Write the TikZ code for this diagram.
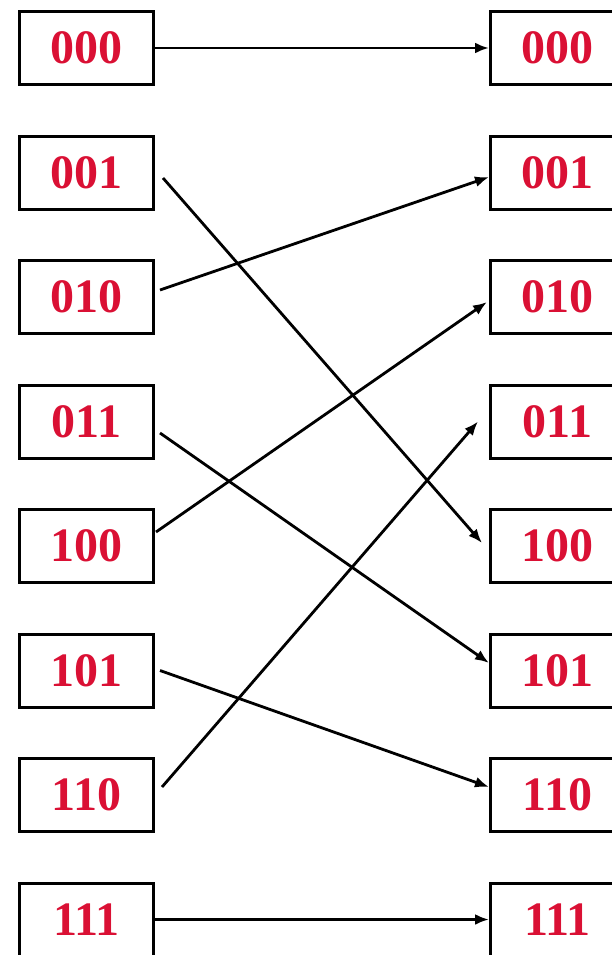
\documentclass[tikz,border=0pt]{standalone}
\usepackage{fontspec}
\setmainfont{Liberation Serif}
\usepackage{tikz}
\usetikzlibrary{positioning,arrows.meta}
\definecolor{bitred}{RGB}{218,16,52}
\tikzset{
  perm box/.style={draw=black,line width=3pt,minimum width=134pt,minimum height=73pt,
    inner sep=0pt,text=bitred,font=\fontsize{48}{48}\bfseries\selectfont},
  perm arrow/.style={-{Latex[length=14pt,width=11pt]},line width=2.8pt,black}
}
\begin{document}
\begin{tikzpicture}
  \useasboundingbox (0,0) rectangle (612pt,-955pt);
  \clip (0,0) rectangle (612pt,-955pt);
  % input column
  \node[perm box] (l0) at (86.5pt,-48pt) {000};
  \node[perm box,below=48.5pt of l0] (l1) {001};
  \node[perm box,below=48.5pt of l1] (l2) {010};
  \node[perm box,below=48.5pt of l2] (l3) {011};
  \node[perm box,below=48.5pt of l3] (l4) {100};
  \node[perm box,below=48.5pt of l4] (l5) {101};
  \node[perm box,below=48.5pt of l5] (l6) {110};
  \node[perm box,below=48.5pt of l6] (l7) {111};
  % output column
  \node[perm box,right=334pt of l0] (r0) {000};
  \node[perm box,right=334pt of l1] (r1) {001};
  \node[perm box,right=334pt of l2] (r2) {010};
  \node[perm box,right=334pt of l3] (r3) {011};
  \node[perm box,right=334pt of l4] (r4) {100};
  \node[perm box,right=334pt of l5] (r5) {101};
  \node[perm box,right=334pt of l6] (r6) {110};
  \node[perm box,right=334pt of l7] (r7) {111};

  \draw[perm arrow] (l0.east) -- (r0.west);
  \draw[perm arrow] ([xshift=8pt,yshift=-5.5pt]l1.east) -- ([xshift=-7pt,yshift=3pt]r4.west);
  \draw[perm arrow] ([xshift=5pt,yshift=7pt]l2.east) -- ([yshift=-4.5pt]r1.west);
  \draw[perm arrow] ([xshift=5pt,yshift=-11.5pt]l3.east) -- ([yshift=7.5pt]r5.west);
  \draw[perm arrow] ([xshift=1pt,yshift=14pt]l4.east) -- ([xshift=-2pt,yshift=-5pt]r2.west);
  \draw[perm arrow] ([xshift=5pt]l5.east) -- ([yshift=8pt]r6.west);
  \draw[perm arrow] ([xshift=7pt,yshift=8pt]l6.east) -- ([xshift=-11pt]r3.west);
  \draw[perm arrow] (l7.east) -- (r7.west);
\end{tikzpicture}
\end{document}
